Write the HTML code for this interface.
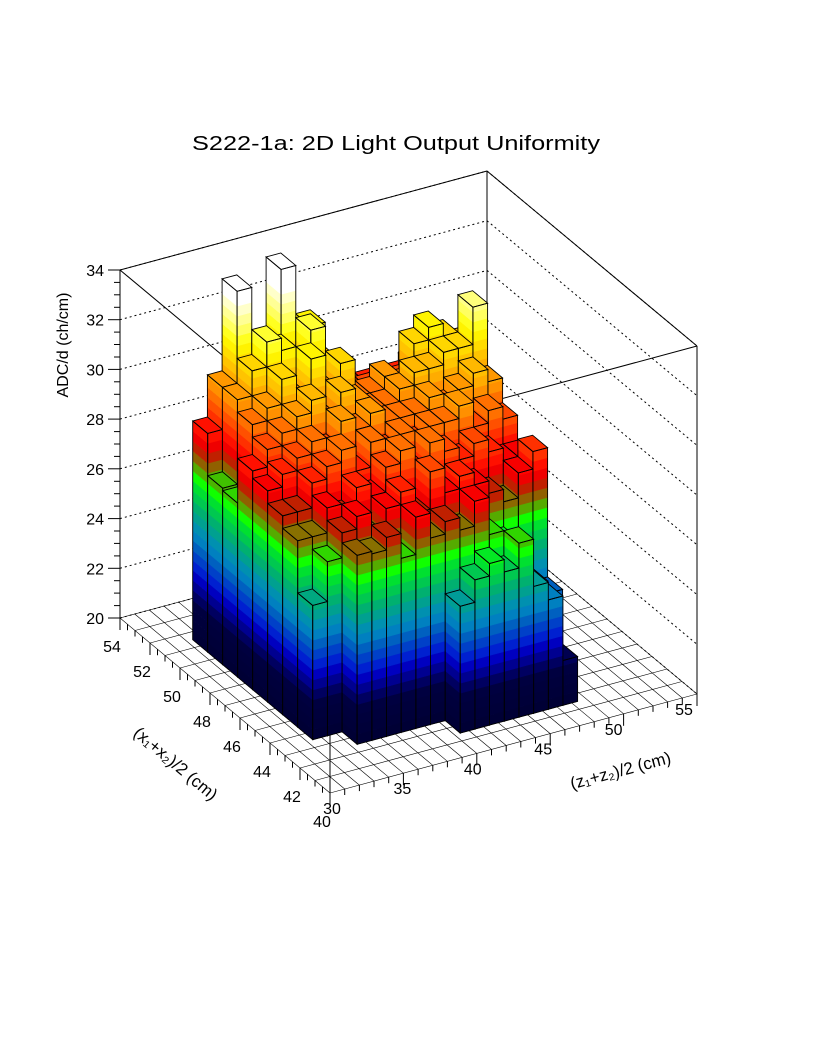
<!DOCTYPE html>
<html><head><meta charset="utf-8"><style>
html,body{margin:0;padding:0;background:#fff;}
svg{display:block;font-family:"Liberation Sans","DejaVu Sans",sans-serif;}
</style></head><body>
<svg id="chart" width="816" height="1056" viewBox="0 0 816 1056" xmlns="http://www.w3.org/2000/svg">
<rect width="816" height="1056" fill="#fff"/>
<text x="396" y="150" text-anchor="middle" font-size="20" textLength="408" lengthAdjust="spacingAndGlyphs">S222-1a: 2D Light Output Uniformity</text>
<g id="frame"></g>
<g id="bars"></g>
<g id="axes"></g>
<text x="0" y="0" transform="translate(68,345) rotate(-90)" text-anchor="middle" font-size="16">ADC/d (ch/cm)</text>
<text x="0" y="0" transform="translate(172,768) rotate(40)" text-anchor="middle" font-size="17">(x₁+x₂)/2 (cm)</text>
<text x="0" y="0" transform="translate(622,776) rotate(-15)" text-anchor="middle" font-size="17">(z₁+z₂)/2 (cm)</text>
</svg>
<script>
// ---- data ----
const xEdgeStart = 41.5;          // first x bin lower edge (cm)
const zEdgeStart = 32.4;          // first z bin lower edge (cm)
const binWidth = 1.0;
const xTickLabels = [40,42,44,46,48,50,52,54];
const zTickLabels = [30,35,40,45,50,55];
const yTickLabels = [20,22,24,26,28,30,32,34];
// heights per x-row (front row first), one value per z bin; null = empty
const row0 = [null,null,null,null,null,null,null,null,25.1,26.0,26.5,26.0,27.0,25.1,24.4,21.8];
const row1 = [null,null,27.6,27.5,28.0,27.0,28.5,27.5,28.0,27.5,28.5,27.0,26.5,25.5,24.5,24.0];
const row2 = [25.4,27.0,28.0,28.5,27.5,28.5,29.0,28.0,29.5,28.5,29.0,28.5,28.0,27.5,28.5,29.2];
const row3 = [27.5,27.5,28.5,28.0,29.0,28.5,29.5,30.0,29.0,30.0,29.5,29.0,29.5,29.0,28.5,28.5];
const row4 = [28.0,28.0,29.0,29.5,30.0,29.0,30.0,29.5,30.0,29.5,30.0,30.0,30.5,29.5,30.0,29.5];
const row5 = [28.5,29.0,29.5,30.0,29.5,30.5,30.0,30.5,30.0,30.0,30.0,30.5,30.0,30.5,31.0,30.5];
const row6 = [28.8,29.5,30.0,30.5,31.0,30.0,31.0,30.5,30.0,30.0,30.5,31.0,31.0,31.5,31.5,33.0];
const row7 = [27.0,30.0,30.5,31.5,30.5,32.0,30.5,31.5,30.0,30.0,30.5,30.0,31.5,32.0,31.5,31.0];
const row8 = [27.1,30.5,31.5,32.5,32.0,31.0,32.5,31.0,30.0,29.5,29.5,29.5,29.5,30.0,30.5,30.0];
const row9 = [28.8,30.5,34.2,31.5,31.8,34.6,31.0,32.0,30.0,28.8,29.0,29.0,28.8,29.0,29.3,29.0];
const heightRows = [row0,row1,row2,row3,row4,row5,row6,row7,row8,row9];

// ---- projection ----
function P(x,z,h){
  return [330 + 14.68*(z-30) - 15*(x-40), 793 - 3.96*(z-30) - 12.5*(x-40) - 24.86*(h-20)];
}
const NS='http://www.w3.org/2000/svg';
function pts(a){return a.map(p=>p[0].toFixed(1)+','+p[1].toFixed(1)).join(' ');}
function mk(tag,parent){const e=document.createElementNS(NS,tag);parent.appendChild(e);return e;}
function line(parent,a,b,stroke,w,dash){
  const l=mk('line',parent);
  l.setAttribute('x1',a[0].toFixed(1));l.setAttribute('y1',a[1].toFixed(1));
  l.setAttribute('x2',b[0].toFixed(1));l.setAttribute('y2',b[1].toFixed(1));
  l.setAttribute('stroke',stroke);l.setAttribute('stroke-width',w);
  if(dash)l.setAttribute('stroke-dasharray',dash);
  return l;
}
// palette
const stops=[[20,'000033'],[21.4,'000040'],[21.8,'000060'],[22.2,'000090'],[22.6,'0000c0'],[23.0,'0020d0'],[23.4,'0040c8'],[23.8,'0060c0'],[24.2,'0080c0'],[24.6,'0090b0'],[25.0,'00a090'],[25.4,'00b070'],[25.8,'00c850'],[26.2,'00e030'],[26.6,'10ff00'],[26.9,'40c000'],[27.2,'808000'],[27.6,'a04000'],[28.0,'e00000'],[28.4,'ff0000'],[28.8,'ff2000'],[29.2,'ff4000'],[29.6,'ff6000'],[30.0,'ff8000'],[30.4,'ffa000'],[30.8,'ffb800'],[31.2,'ffd000'],[31.6,'ffe800'],[32.0,'ffff00'],[32.6,'ffff60'],[33.2,'ffffb0'],[33.8,'ffffff']];
function col(v){
  if(v<=stops[0][0])return '#'+stops[0][1];
  for(let i=1;i<stops.length;i++){
    if(v<=stops[i][0]){
      const a=stops[i-1],b=stops[i],t=(v-a[0])/(b[0]-a[0]);
      let s='#';
      for(let k=0;k<3;k++){
        const ca=parseInt(a[1].substr(2*k,2),16),cb=parseInt(b[1].substr(2*k,2),16);
        s+=Math.round(ca+(cb-ca)*t).toString(16).padStart(2,'0');
      }
      return s;
    }
  }
  return '#ffffff';
}
const BAND=0.4;

// ---- frame ----
const frame=document.getElementById('frame');
for(let z=30;z<=55;z++){const l=line(frame,P(40,z,20),P(54,z,20),'#000',0.6);

}
for(let x=40;x<=54;x++){const l=line(frame,P(x,30,20),P(x,55,20),'#000',0.6);

}
yTickLabels.forEach(h=>{
  const a=line(frame,P(54,30,h),P(54,55,h),'#000',1,'2,3');
  
  
  const b=line(frame,P(54,55,h),P(40,55,h),'#000',1,'2,3');
  
  
});
[[P(54,55,20),P(54,55,34)],[P(40,55,20),P(40,55,34)],[P(54,30,34),P(54,55,34)],[P(54,55,34),P(40,55,34)],[P(40,55,34),P(40,30,34)],[P(40,30,34),P(54,30,34)],[P(40,30,20),P(40,30,24)]].forEach(e=>{
  const l=line(frame,e[0],e[1],'#000',1);
  
  
});

// ---- bars ----
const bars=document.getElementById('bars');
function face(g,corners,fill){
  const p=mk('polygon',g);p.setAttribute('points',pts(corners));p.setAttribute('fill',fill);
  p.setAttribute('stroke',fill);p.setAttribute('stroke-width','0.5');
  return p;
}
for(let ix=heightRows.length-1;ix>=0;ix--){
  const row=heightRows[ix];
  for(let iz=row.length-1;iz>=0;iz--){
    const h=row[iz]; if(h==null)continue;
    const x0=xEdgeStart+ix*binWidth,x1=x0+binWidth,z0=zEdgeStart+iz*binWidth,z1=z0+binWidth;
    const g=mk('g',bars);
    
    
    for(let lo=20;lo<h-1e-6;lo+=BAND){
      const hi=Math.min(lo+BAND,h),c=col((lo+hi)/2);
      face(g,[P(x0,z0,lo),P(x0,z1,lo),P(x0,z1,hi),P(x0,z0,hi)],c);
      face(g,[P(x0,z0,lo),P(x1,z0,lo),P(x1,z0,hi),P(x0,z0,hi)],c);
    }
    const tc=col(h-0.2);
    const top=mk('polygon',g);top.setAttribute('points',pts([P(x0,z0,h),P(x0,z1,h),P(x1,z1,h),P(x1,z0,h)]));
    top.setAttribute('fill',tc);top.setAttribute('stroke','#000');top.setAttribute('stroke-width','0.9');
    const o1=mk('polygon',g);o1.setAttribute('points',pts([P(x0,z0,20),P(x0,z1,20),P(x0,z1,h),P(x0,z0,h)]));
    o1.setAttribute('fill','none');o1.setAttribute('stroke','#000');o1.setAttribute('stroke-width','0.9');
    const o2=mk('polygon',g);o2.setAttribute('points',pts([P(x0,z0,20),P(x1,z0,20),P(x1,z0,h),P(x0,z0,h)]));
    o2.setAttribute('fill','none');o2.setAttribute('stroke','#000');o2.setAttribute('stroke-width','0.9');
  }
}

// ---- axes ----
const axes=document.getElementById('axes');
const ya=line(axes,P(54,30,20),P(54,30,34),'#000',1);


for(let v=20;v<=34.001;v+=0.5){
  const p=P(54,30,v),major=Math.abs(v/2-Math.round(v/2))<1e-6;
  const t=line(axes,p,[p[0]-(major?12:6),p[1]],'#000',1);
  
  
}
yTickLabels.forEach(v=>{
  const p=P(54,30,v);const t=mk('text',axes);
  t.setAttribute('x',(p[0]-16).toFixed(1));t.setAttribute('y',(p[1]+6).toFixed(1));
  t.setAttribute('text-anchor','end');t.setAttribute('font-size','16');t.textContent=v;
  
  
});
for(let x=40;x<=54.001;x+=0.5){
  const p=P(x,30,20),major=Math.abs(x/2-Math.round(x/2))<1e-6;
  const t=line(axes,p,[p[0],p[1]+(major?12:6)],'#000',1);
  
  
}
xTickLabels.forEach(v=>{
  const p=P(v,30,20);const t=mk('text',axes);
  t.setAttribute('x',(p[0]-8).toFixed(1));t.setAttribute('y',(p[1]+34).toFixed(1));
  t.setAttribute('text-anchor','middle');t.setAttribute('font-size','16');t.textContent=v;
  
  
});
for(let z=30;z<=55;z++){
  const p=P(40,z,20),major=z%5===0;
  const t=line(axes,p,[p[0],p[1]+(major?12:6)],'#000',1);
  
  
}
zTickLabels.forEach((v,i)=>{
  const p=P(40,v,20);const t=mk('text',axes);
  t.setAttribute('x',(p[0]+2-i*3).toFixed(1));t.setAttribute('y',(p[1]+21).toFixed(1));
  t.setAttribute('text-anchor','middle');t.setAttribute('font-size','16');t.textContent=v;
  
  
});
</script>
</body></html>
